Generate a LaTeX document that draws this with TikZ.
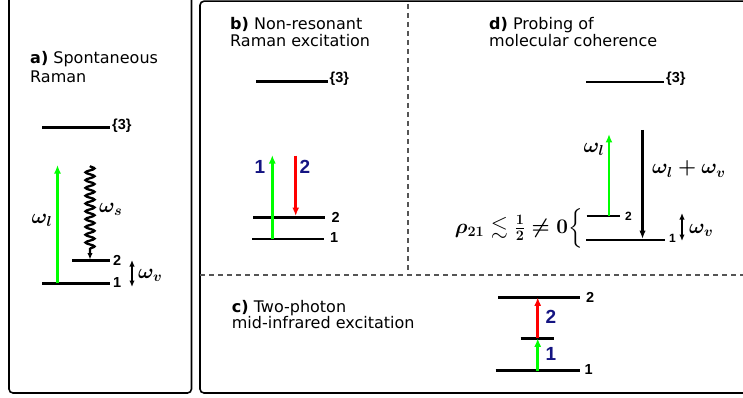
\documentclass[tikz,border=0pt]{standalone}
\usepackage{fontspec}
\usepackage{amsmath,amssymb,bm}
\setsansfont{DejaVu Sans}
\newfontfamily\labfont{Liberation Sans}
\usetikzlibrary{arrows.meta,decorations.pathmorphing}
\definecolor{navy}{RGB}{20,20,130}
\definecolor{dashgray}{RGB}{85,85,85}
\tikzset{
  panel/.style={draw=black, line width=1.6pt, rounded corners=4pt},
  divider/.style={draw=dashgray, line width=1.1pt, dash pattern=on 5pt off 4pt},
  level/.style={draw=black, line width=2.9pt},
  title/.style={font=\sffamily\fontsize{16}{#1}\selectfont, align=left, anchor=base west, inner sep=0pt},
  lvl/.style={font=\labfont\bfseries\fontsize{14.5}{14.5}\selectfont, anchor=west, inner sep=0pt},
  lvlsmall/.style={font=\labfont\bfseries\fontsize{12}{12}\selectfont, anchor=west, inner sep=0pt},
  num/.style={font=\labfont\bfseries\fontsize{19}{19}\selectfont, text=navy, inner sep=0pt},
  mlab/.style={font=\fontsize{21}{21}\selectfont\boldmath, inner sep=0pt},
  greenarrow/.style={draw=green, line width=2.6pt, -{Latex[length=8.5pt,width=7pt]}},
  redarrow/.style={draw=red, line width=2.6pt, -{Latex[length=8.5pt,width=7pt]}},
  blackarrow/.style={draw=black, line width=2.2pt, -{Latex[length=8.5pt,width=6.5pt]}},
  dblarrow/.style={draw=black, line width=1.8pt, {Latex[length=6.5pt,width=5.5pt]}-{Latex[length=6.5pt,width=5.5pt]}},
  wavy/.style={draw=black, line width=2.3pt, decorate,
    decoration={snake, amplitude=4.5pt, segment length=7.8pt, post length=7pt},
    -{Latex[length=6.5pt,width=5.5pt]}}
}
\begin{document}
\begin{tikzpicture}[x=1pt,y=-1pt]
\useasboundingbox (0,0) rectangle (743,398);

% panels
\draw[panel] (9,-10) rectangle (191.5,393);
\draw[panel] (200,1.2) rectangle (760,393);
\draw[divider] (408,4) -- (408,275);
\draw[divider] (200,275) -- (743,275);

% ---------- panel a ----------
\node[title=19] (ta) at (30,83) {\textbf{a)} Spontaneous\\Raman};
\coordinate (a3L) at (42,127.3);  \coordinate (a3R) at (110,127.3);
\coordinate (a2L) at (72,260.7);  \coordinate (a2R) at (110,260.7);
\coordinate (a1L) at (42,283.3);  \coordinate (a1R) at (110,283.3);
\draw[level] (a3L) -- (a3R);
\draw[level] (a2L) -- (a2R);
\draw[level] (a1L) -- (a1R);
\node[lvl] (a3lab) at ([xshift=2pt,yshift=2pt]a3R) {\{3\}};
\node[lvl] (a2lab) at ([xshift=3pt]a2R) {2};
\node[lvl] (a1lab) at ([xshift=3pt,yshift=1pt]a1R) {1};
\coordinate (aG1) at (57.5,283.3); \coordinate (aG2) at (57.5,165);
\draw[greenarrow] (aG1) -- (aG2);
\node[mlab] (awl) at (42,220) {$\omega_l$};
\coordinate (aW1) at (90,166); \coordinate (aW2) at (90,259.5);
\draw[wavy] (aW1) -- (aW2);
\node[mlab, anchor=west] (aws) at (99,209) {$\omega_s$};
\coordinate (aV1) at (132,260); \coordinate (aV2) at (132,287);
\draw[dblarrow] (aV1) -- (aV2);
\node[mlab, anchor=west] (awv) at (138,275) {$\omega_v$};

% ---------- panel b ----------
\node[title=16.7] (tb) at (230,46.7) {\textbf{b)} Non-resonant\\Raman excitation};
\coordinate (b3L) at (256,81.7);  \coordinate (b3R) at (328,81.7);
\coordinate (b2L) at (253,217.3); \coordinate (b2R) at (325,217.3);
\coordinate (b1L) at (252,239);   \coordinate (b1R) at (324,239);
\draw[level] (b3L) -- (b3R);
\draw[level] (b2L) -- (b2R);
\draw[level] (b1L) -- (b1R);
\node[lvl] (b3lab) at ([xshift=1.5pt,yshift=3pt]b3R) {\{3\}};
\node[lvl] (b2lab) at ([xshift=6.5pt]b2R) {2};
\node[lvl] (b1lab) at ([xshift=6pt,yshift=1pt]b1R) {1};
\coordinate (bG1) at (272.3,239); \coordinate (bG2) at (272.3,155);
\draw[greenarrow] (bG1) -- (bG2);
\coordinate (bR1) at (295.7,155.7); \coordinate (bR2) at (295.7,216);
\draw[redarrow] (bR1) -- (bR2);
\node[num] (bn1) at (260,167) {1};
\node[num] (bn2) at (305,167) {2};

% ---------- panel d ----------
\node[title=16.7] (td) at (489,46.7) {\textbf{d)} Probing of\\molecular coherence};
\coordinate (d3L) at (586,82);    \coordinate (d3R) at (664,82);
\coordinate (d2L) at (586.5,216); \coordinate (d2R) at (620,216);
\coordinate (d1L) at (586,240);   \coordinate (d1R) at (665,240);
\draw[level] (d3L) -- (d3R);
\draw[level] (d2L) -- (d2R);
\draw[level] (d1L) -- (d1R);
\node[lvl] (d3lab) at ([xshift=2pt,yshift=3pt]d3R) {\{3\}};
\node[lvlsmall] (d2lab) at ([xshift=5pt]d2R) {2};
\node[lvlsmall] (d1lab) at ([xshift=4pt,yshift=1.5pt]d1R) {1};
\coordinate (dG1) at (609,216); \coordinate (dG2) at (609,134);
\draw[greenarrow] (dG1) -- (dG2);
\coordinate (dB1) at (642.5,130); \coordinate (dB2) at (642.5,239);
\draw[blackarrow] (dB1) -- (dB2);
\coordinate (dV1) at (682,213); \coordinate (dV2) at (682,241);
\draw[dblarrow] (dV1) -- (dV2);
\node[mlab] (dwl) at (594,149) {$\omega_l$};
\node[mlab, anchor=west] (dwlv) at (652,169) {$\omega_l+\omega_v$};
\node[mlab, anchor=west] (dwv) at (689,230) {$\omega_v$};
\node[mlab, font=\fontsize{22}{22}\selectfont\boldmath, anchor=east] (rho) at (583,228) {$\rho_{21}\lesssim\frac{1}{2}\neq 0\Big\{$};

% ---------- panel c ----------
\node[title=16] (tc) at (231.7,328) {\textbf{c)} Two-photon\\mid-infrared excitation};
\coordinate (c2L) at (498.3,297.3); \coordinate (c2R) at (580,297.3);
\coordinate (cmL) at (520.7,338.3); \coordinate (cmR) at (554,338.3);
\coordinate (c1L) at (495.7,370.7); \coordinate (c1R) at (580,370.7);
\draw[level] (c2L) -- (c2R);
\draw[level] (cmL) -- (cmR);
\draw[level] (c1L) -- (c1R);
\node[lvl] (c2lab) at ([xshift=6pt]c2R) {2};
\node[lvl] (c1lab) at ([xshift=4.5pt,yshift=1pt]c1R) {1};
\coordinate (cA) at (537.7,370.7);
\coordinate (cB) at (537.7,338.3);
\coordinate (cC) at (537.7,297.3);
\draw[greenarrow] (cA) -- (cB);
\draw[redarrow] (cB) -- (cC);
\node[num] (cn2) at (551,316.7) {2};
\node[num] (cn1) at (551,354) {1};
\end{tikzpicture}
\end{document}
